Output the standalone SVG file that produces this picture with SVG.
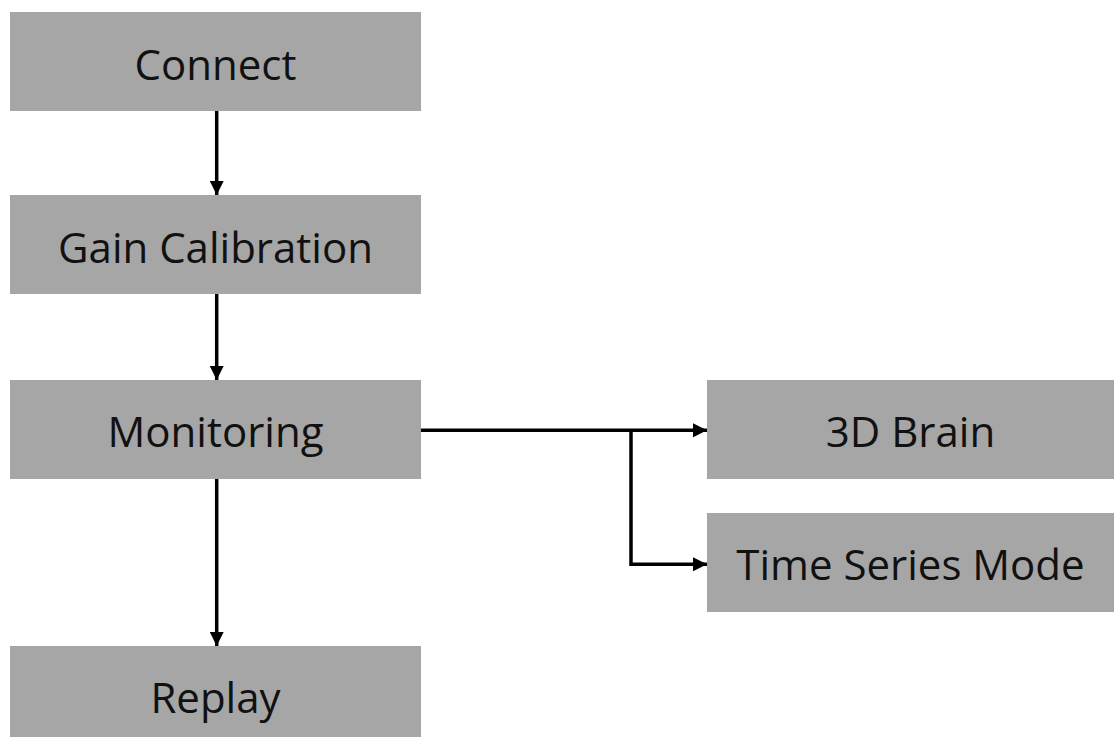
<svg xmlns="http://www.w3.org/2000/svg" width="1114" height="737" viewBox="0 0 1114 737">
<style>
.box{fill:#a6a6a6}
.lbl{font-family:"Open Sans","Noto Sans",sans-serif;font-size:42px;fill:#111;text-anchor:middle}
.con{fill:none;stroke:#000;stroke-width:3.5}
</style>
<defs>
<marker id="ah" viewBox="0 0 10 10" refX="10" refY="5" markerWidth="4" markerHeight="4" markerUnits="strokeWidth" orient="auto">
<path d="M0,0 L10,5 L0,10 z" fill="#000"/>
</marker>
</defs>
<rect width="1114" height="737" fill="#fff"/>
<g id="connect"><rect class="box" x="10" y="12" width="411" height="99"/><text class="lbl" x="215.5" y="80">Connect</text></g>
<g id="gain"><rect class="box" x="10" y="195" width="411" height="99"/><text class="lbl" x="215.5" y="263">Gain Calibration</text></g>
<g id="monitoring"><rect class="box" x="10" y="380" width="411" height="99"/><text class="lbl" x="215.5" y="447">Monitoring</text></g>
<g id="replay"><rect class="box" x="10" y="646" width="411" height="91"/><text class="lbl" x="215.5" y="713">Replay</text></g>
<g id="brain"><rect class="box" x="707" y="380" width="407" height="99"/><text class="lbl" x="910.5" y="447">3D Brain</text></g>
<g id="timeseries"><rect class="box" x="707" y="513" width="407" height="99"/><text class="lbl" x="910.5" y="580">Time Series Mode</text></g>
<g id="connectors">
<path class="con" d="M216.7,111 V195" marker-end="url(#ah)"/>
<path class="con" d="M216.7,294 V380" marker-end="url(#ah)"/>
<path class="con" d="M216.7,479 V646" marker-end="url(#ah)"/>
<path class="con" d="M421,430.3 H707" marker-end="url(#ah)"/>
<path class="con" d="M631,430.3 V564.3 H707" marker-end="url(#ah)"/>
</g>
</svg>
